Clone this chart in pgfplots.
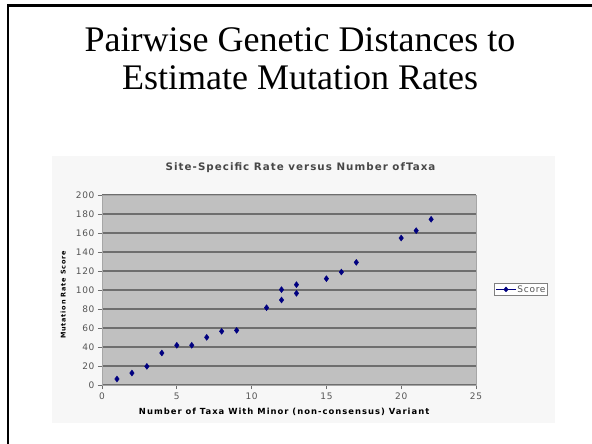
\documentclass[border=0pt]{standalone}
\usepackage{pgfplots}
\pgfplotsset{compat=1.18}
\usepackage{fontspec}
\setmainfont{Liberation Serif}
\newfontfamily\chartfont[LetterSpace=8]{DejaVu Sans}
\newfontfamily\charttitle[LetterSpace=10]{DejaVu Sans}
\newfontfamily\chartlabel[LetterSpace=12]{DejaVu Sans}
\definecolor{chartbg}{HTML}{F7F7F7}
\definecolor{plotbg}{HTML}{C0C0C0}
\definecolor{gridc}{HTML}{6E6E6E}
\definecolor{navy}{HTML}{000080}
\definecolor{tickc}{HTML}{555555}
\begin{document}
\begin{tikzpicture}
\path[use as bounding box] (0pt,-444pt) rectangle (592pt,0pt);
\fill[white] (0pt,-444pt) rectangle (592pt,0pt);
\draw[line width=2.2pt] (8pt,-444pt) -- (8pt,-5.5pt) -- (593pt,-5.5pt);
\fill[chartbg] (52pt,-423pt) rectangle (555pt,-156pt);
\node[anchor=base, font=\fontsize{36}{40}\selectfont] at (300pt,-52pt) {Pairwise Genetic Distances to};
\node[anchor=base, font=\fontsize{36}{40}\selectfont] at (300pt,-89pt) {Estimate Mutation Rates};
\begin{axis}[
  at={(102pt,-385pt)}, anchor=south west,
  scale only axis, width=374pt, height=190pt,
  xmin=0, xmax=25, ymin=0, ymax=200,
  xtick={0,5,...,25}, ytick={0,20,...,200},
  axis background/.style={fill=plotbg},
  ymajorgrids, major grid style={draw=gridc, line width=1.1pt},
  axis line style={draw=gray!70!white, line width=0.8pt},
  tick align=outside, tick pos=left, major tick length=4pt,
  tick style={draw=gridc, line width=0.8pt},
  ticklabel style={font=\chartfont\fontsize{9}{10}\selectfont, text=tickc},
  /pgf/number format/assume math mode=true,
  title={Site-Specific Rate versus Number ofTaxa},
  title style={font=\charttitle\bfseries\fontsize{10.3}{12}\selectfont, text=black!72, anchor=base, at={(axis description cs:0.531,1.095)}},
  xlabel={Number of Taxa With Minor (non-consensus) Variant},
  xlabel style={font=\chartlabel\bfseries\fontsize{8.4}{9}\selectfont, anchor=base, at={(axis description cs:0.487,-0.155)}},
  ylabel={Mutation Rate Score},
  ylabel style={font=\chartlabel\bfseries\fontsize{6.5}{8}\selectfont, anchor=center, at={(axis description cs:-0.104,0.474)}},
  legend style={at={(1.048,0.503)}, anchor=west, draw=gray, line width=0.8pt, fill=white,
    font=\chartfont\fontsize{9}{9}\selectfont, text=tickc, inner sep=1pt, row sep=0pt,
    nodes={inner sep=0.8pt}},
  legend cell align=left,
  legend image post style={xscale=1.2},
]
\addplot[forget plot, only marks, mark=diamond*, mark size=3pt, color=navy, mark options={fill=navy, draw=navy}]
coordinates {
(1,6.3) (2,12.6) (3,19.6) (4,33.7) (5,41.8) (6,41.8) (7,50.2) (8,56.5) (9,57.5)
(11,81.4) (12,100.4) (12,89.5) (13,105.6) (13,96.5) (15,111.9) (16,118.9) (17,129.1)
(20,154.7) (21,162.5) (22,174.4)
};
\addlegendimage{navy, line width=0.8pt, mark=diamond*, mark size=2.2pt, mark options={fill=navy}}
\addlegendentry{Score}
\end{axis}
\end{tikzpicture}
\end{document}
